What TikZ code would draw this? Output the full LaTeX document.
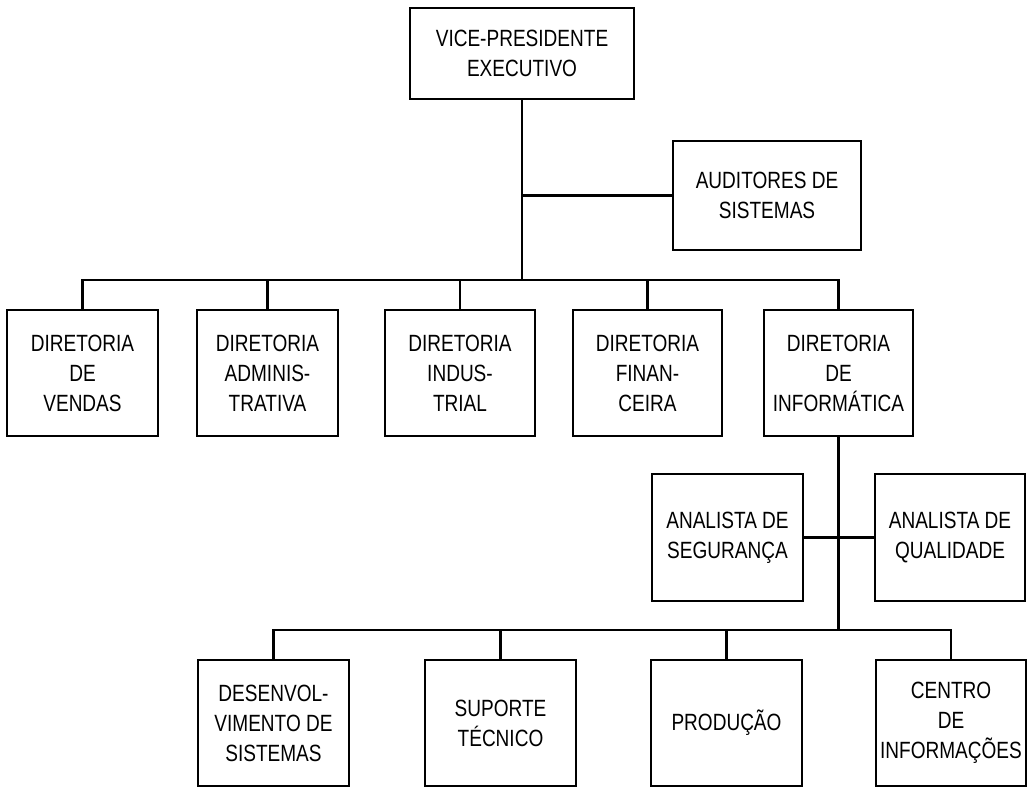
\documentclass[tikz,border=0pt]{standalone}
\usepackage{fontspec}
\setmainfont{Liberation Sans}[FakeStretch=0.81]
\begin{document}
\begin{tikzpicture}[x=1pt,y=-1pt,
  box/.style={draw, line width=1.4pt, align=center, inner sep=0pt,
    font=\fontsize{23.5}{30}\selectfont, minimum height=126pt},
  conn/.style={line width=2.2pt, line cap=rect}]
\useasboundingbox (0,0) rectangle (1032,787);

% top level
\node[box, minimum width=224pt, minimum height=91pt] (vp) at (522,53.5) {VICE-PRESIDENTE\\EXECUTIVO};
\node[box, minimum width=188pt, minimum height=109pt] (aud) at (767,195.5) {AUDITORES DE\\SISTEMAS};

% directorates
\node[box, minimum width=151pt] (d1) at (82.5,373) {DIRETORIA\\DE\\VENDAS};
\node[box, minimum width=141pt] (d2) at (267.5,373) {DIRETORIA\\ADMINIS-\\TRATIVA};
\node[box, minimum width=150pt] (d3) at (460,373) {DIRETORIA\\INDUS-\\TRIAL};
\node[box, minimum width=149pt] (d4) at (647.5,373) {DIRETORIA\\FINAN-\\CEIRA};
\node[box, minimum width=149pt] (d5) at (838.5,373) {DIRETORIA\\DE\\INFORMÁTICA};

% staff analysts
\node[box, minimum width=151pt, minimum height=127pt] (as) at (727.5,537.5) {ANALISTA DE\\SEGURANÇA};
\node[box, minimum width=150pt, minimum height=127pt] (aq) at (950,537.5) {ANALISTA DE\\QUALIDADE};

% IT departments
\node[box, minimum width=151pt] (l1) at (273.5,723) {DESENVOL-\\VIMENTO DE\\SISTEMAS};
\node[box, minimum width=151pt] (l2) at (500.5,723) {SUPORTE\\TÉCNICO};
\node[box, minimum width=151pt] (l3) at (726.5,723) {PRODUÇÃO};
\node[box, minimum width=150pt] (l4) at (951,723) {CENTRO\\DE\\INFORMAÇÕES};

% connectors: executive level
\coordinate (bus) at (522,280);
\draw[conn] (vp.south) -- (bus);
\draw[conn] (aud.west) -- (aud.west -| vp.south);
\draw[conn] (d1.north) -- (d1.north |- bus) -| (d5.north);
\foreach \n in {d2,d3,d4} \draw[conn] (\n.north) -- (\n.north |- bus);

% connectors: IT level
\coordinate (bus2) at (838.5,630);
\draw[conn] (d5.south) -- (bus2);
\draw[conn] (as.east) -- (aq.west);
\draw[conn] (l1.north) -- (l1.north |- bus2) -| (l4.north);
\foreach \n in {l2,l3} \draw[conn] (\n.north) -- (\n.north |- bus2);
\end{tikzpicture}
\end{document}
